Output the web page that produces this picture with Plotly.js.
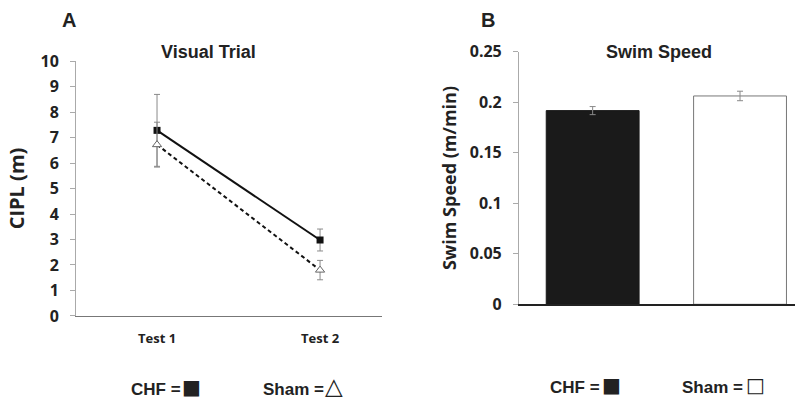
<!DOCTYPE html>
<html><head><meta charset="utf-8">
<script src="https://cdn.plot.ly/plotly-3.0.1.min.js"></script>
<style>html,body{margin:0;padding:0;background:#fff}#chart{width:795px;height:403px}</style>
</head><body><div id="chart"></div>
<script>
// Panel A: Visual Trial (CIPL, m)
const testLabels = ["Test 1", "Test 2"];
const testPos = [0, 1];
const chfCipl = [7.28, 2.98];
const chfCiplErr = [1.41, 0.43];
const shamCipl = [6.72, 1.80];
const shamCiplErr = [0.88, 0.38];
const ciplTicks = [0,1,2,3,4,5,6,7,8,9,10];

// Panel B: Swim Speed (m/min)
const groupPos = [0, 1];
const groups = ["CHF", "Sham"];
const swimSpeed = [0.1917, 0.2062];
const swimSpeedErr = [0.0040, 0.0047];
const speedTicks = [0, 0.05, 0.1, 0.15, 0.2, 0.25];
const speedTickText = ["0","0.05","0.1","0.15","0.2","0.25"];

const OS = "Open Sans, Liberation Sans, Arial";
const LS = "Liberation Sans, Arial";
const tickFont = {family: OS, size: 16, color: "#222"};
const grey = "#8a8a8a";
const bold = a => a.map(s => "<b>" + s + "</b>");

const traces = [
  {x: testPos, y: chfCipl, type: "scatter", mode: "lines+markers", xaxis: "x", yaxis: "y",
   line: {color: "#111", width: 2}, marker: {symbol: "square", size: 7, color: "#111"},
   error_y: {type: "data", array: chfCiplErr, visible: true, color: grey, thickness: 1, width: 3},
   cliponaxis: false, showlegend: false},
  {x: testPos, y: shamCipl, type: "scatter", mode: "lines+markers", xaxis: "x", yaxis: "y",
   line: {color: "#111", width: 2, dash: "4px,3px"}, marker: {symbol: "triangle-up", size: 8, color: "#fff", line: {color: "#666", width: 1}},
   error_y: {type: "data", array: shamCiplErr, visible: true, color: grey, thickness: 1, width: 3},
   cliponaxis: false, showlegend: false},
  {x: groupPos, y: swimSpeed, type: "bar", xaxis: "x2", yaxis: "y2", width: 0.63,
   marker: {color: ["#1a1a1a", "#ffffff"], line: {color: ["#1a1a1a", "#777"], width: 1}},
   error_y: {type: "data", array: swimSpeedErr, visible: true, color: grey, thickness: 1, width: 3},
   showlegend: false}
];

function ann(x, y, text, size, family) {
  return {xref: "paper", yref: "paper", x: x/795, y: 1 - y/403, xanchor: "center", yanchor: "middle",
    text: text, showarrow: false, font: {family: family || LS, size: size, color: "#222"}};
}

const layout = {
  width: 795, height: 403,
  margin: {l: 0, r: 0, t: 0, b: 0},
  paper_bgcolor: "#fff", plot_bgcolor: "#fff",
  showlegend: false,
  xaxis: {domain: [0.0956, 0.4805], range: [-0.497, 1.38], showgrid: false, zeroline: false,
    showline: true, linecolor: "#777", linewidth: 1.5, ticks: "", tickvals: testPos, ticktext: bold(testLabels),
    tickfont: {family: OS, size: 13, color: "#222"}, ticklabelstandoff: 10, fixedrange: true},
  yaxis: {domain: [0.2159, 0.8486], range: [0, 10], anchor: "x", tickvals: ciplTicks, ticktext: bold(ciplTicks.map(String)),
    showgrid: false, zeroline: false,
    showline: true, linecolor: "#aaa", linewidth: 1, ticks: "outside", ticklen: 5, tickcolor: "#aaa",
    tickfont: tickFont, ticklabelstandoff: 8,
    title: {text: "<b>CIPL (m)</b>", font: {family: OS, size: 20, color: "#222"}, standoff: 10}},
  xaxis2: {domain: [0.6528, 1.0], range: [-0.5, 1.373], anchor: "y2", showgrid: false, zeroline: false,
    showline: true, linecolor: "#222", linewidth: 1.5, ticks: "", showticklabels: false},
  yaxis2: {domain: [0.2449, 0.8717], range: [0, 0.25], anchor: "x2", tickvals: speedTicks, ticktext: bold(speedTickText),
    showgrid: false, zeroline: false, showline: true, linecolor: "#aaa", linewidth: 1, ticks: "outside", ticklen: 5, tickcolor: "#aaa",
    tickfont: tickFont, ticklabelstandoff: 8,
    title: {text: "<b>Swim Speed (m/min)</b>", font: {family: OS, size: 18, color: "#222"}, standoff: 8}},
  annotations: [
    ann(69, 20, "<b>A</b>", 20),
    ann(488, 20, "<b>B</b>", 20),
    ann(208, 52, "<b>Visual Trial</b>", 18),
    ann(659, 52, "<b>Swim Speed</b>", 18),
    ann(156, 389, "<b>CHF =</b>", 17),
    ann(191, 387, "■", 20, "DejaVu Sans"),
    ann(293, 389, "<b>Sham =</b>", 17),
    ann(334, 386, "△", 23, "DejaVu Sans"),
    ann(575, 387, "<b>CHF =</b>", 17),
    ann(611, 385, "■", 20, "DejaVu Sans"),
    ann(712, 387, "<b>Sham =</b>", 17),
    ann(755, 385, "□", 20, "DejaVu Sans")
  ]
};

Plotly.newPlot("chart", traces, layout, {displayModeBar: false, staticPlot: true});
</script></body></html>
